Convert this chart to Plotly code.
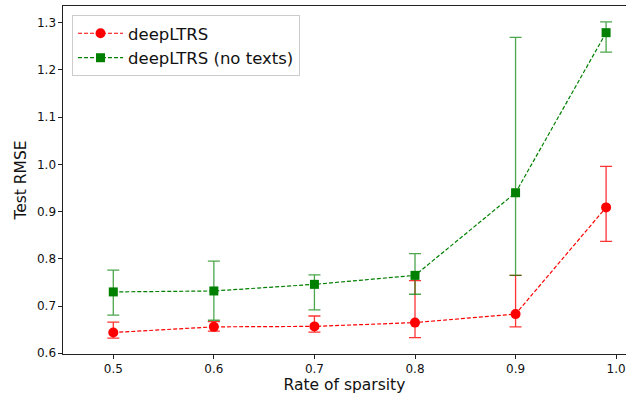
import plotly.graph_objects as go

sparsity = [0.5, 0.6, 0.7, 0.8, 0.9, 0.99]

red_mean = [0.644, 0.656, 0.657, 0.665, 0.683, 0.909]
red_upper = [0.666, 0.667, 0.679, 0.754, 0.765, 0.996]
red_lower = [0.632, 0.647, 0.645, 0.633, 0.656, 0.837]

green_mean = [0.730, 0.732, 0.746, 0.765, 0.940, 1.279]
green_upper = [0.776, 0.795, 0.766, 0.811, 1.269, 1.302]
green_lower = [0.681, 0.670, 0.692, 0.725, 0.765, 1.238]

x_ticks = [0.5, 0.6, 0.7, 0.8, 0.9, 1.0]
y_ticks = [0.6, 0.7, 0.8, 0.9, 1.0, 1.1, 1.2, 1.3]


def plus(up, m):
    return [u - v for u, v in zip(up, m)]


def minus(lo, m):
    return [v - l for l, v in zip(lo, m)]


fig = go.Figure()
fig.add_trace(go.Scatter(
    x=sparsity, y=red_mean, name="deepLTRS", mode="lines+markers",
    line=dict(color="red", width=1.2, dash="4px,2px"),
    marker=dict(symbol="circle", size=10, color="red"),
    error_y=dict(type="data", symmetric=False, array=plus(red_upper, red_mean),
                 arrayminus=minus(red_lower, red_mean),
                 color="rgba(255,0,0,0.8)", thickness=1.3, width=6),
))
fig.add_trace(go.Scatter(
    x=sparsity, y=green_mean, name="deepLTRS (no texts)", mode="lines+markers",
    line=dict(color="green", width=1.2, dash="4px,2px"),
    marker=dict(symbol="square", size=9, color="green"),
    error_y=dict(type="data", symmetric=False, array=plus(green_upper, green_mean),
                 arrayminus=minus(green_lower, green_mean),
                 color="rgba(0,128,0,0.7)", thickness=1.3, width=6),
))

axis_common = dict(
    showgrid=False, zeroline=False, showline=True, linecolor="#222222",
    linewidth=1.1, ticks="outside", ticklen=3.5, tickcolor="#222222",
    tickfont=dict(family="DejaVu Sans", size=12, color="#111111"),
)

fig.update_layout(
    width=626, height=400,
    margin=dict(l=63, r=0, t=6, b=46),
    paper_bgcolor="white", plot_bgcolor="white",
    font=dict(family="DejaVu Sans", color="#111111"),
    xaxis=dict(range=[0.45, 1.0098], tickvals=x_ticks, mirror=True,
               ticktext=[f"{v:.1f}" for v in x_ticks],
               title=dict(text="Rate of sparsity", font=dict(size=15.5), standoff=4),
               **axis_common),
    yaxis=dict(range=[0.5985, 1.3355], tickvals=y_ticks, mirror=False,
               ticktext=[f"{v:.1f}" for v in y_ticks],
               title=dict(text="Test RMSE", font=dict(size=15.5), standoff=6),
               **axis_common),
    legend=dict(x=0.016, y=0.974, xanchor="left", yanchor="top",
                bgcolor="rgba(255,255,255,0.8)", bordercolor="#cccccc",
                borderwidth=1, font=dict(size=16.5), tracegroupgap=0,
                itemwidth=45),
    showlegend=True,
)

fig.write_html("out.html", config={"displayModeBar": False},
               post_script="document.body.style.margin='0';")
